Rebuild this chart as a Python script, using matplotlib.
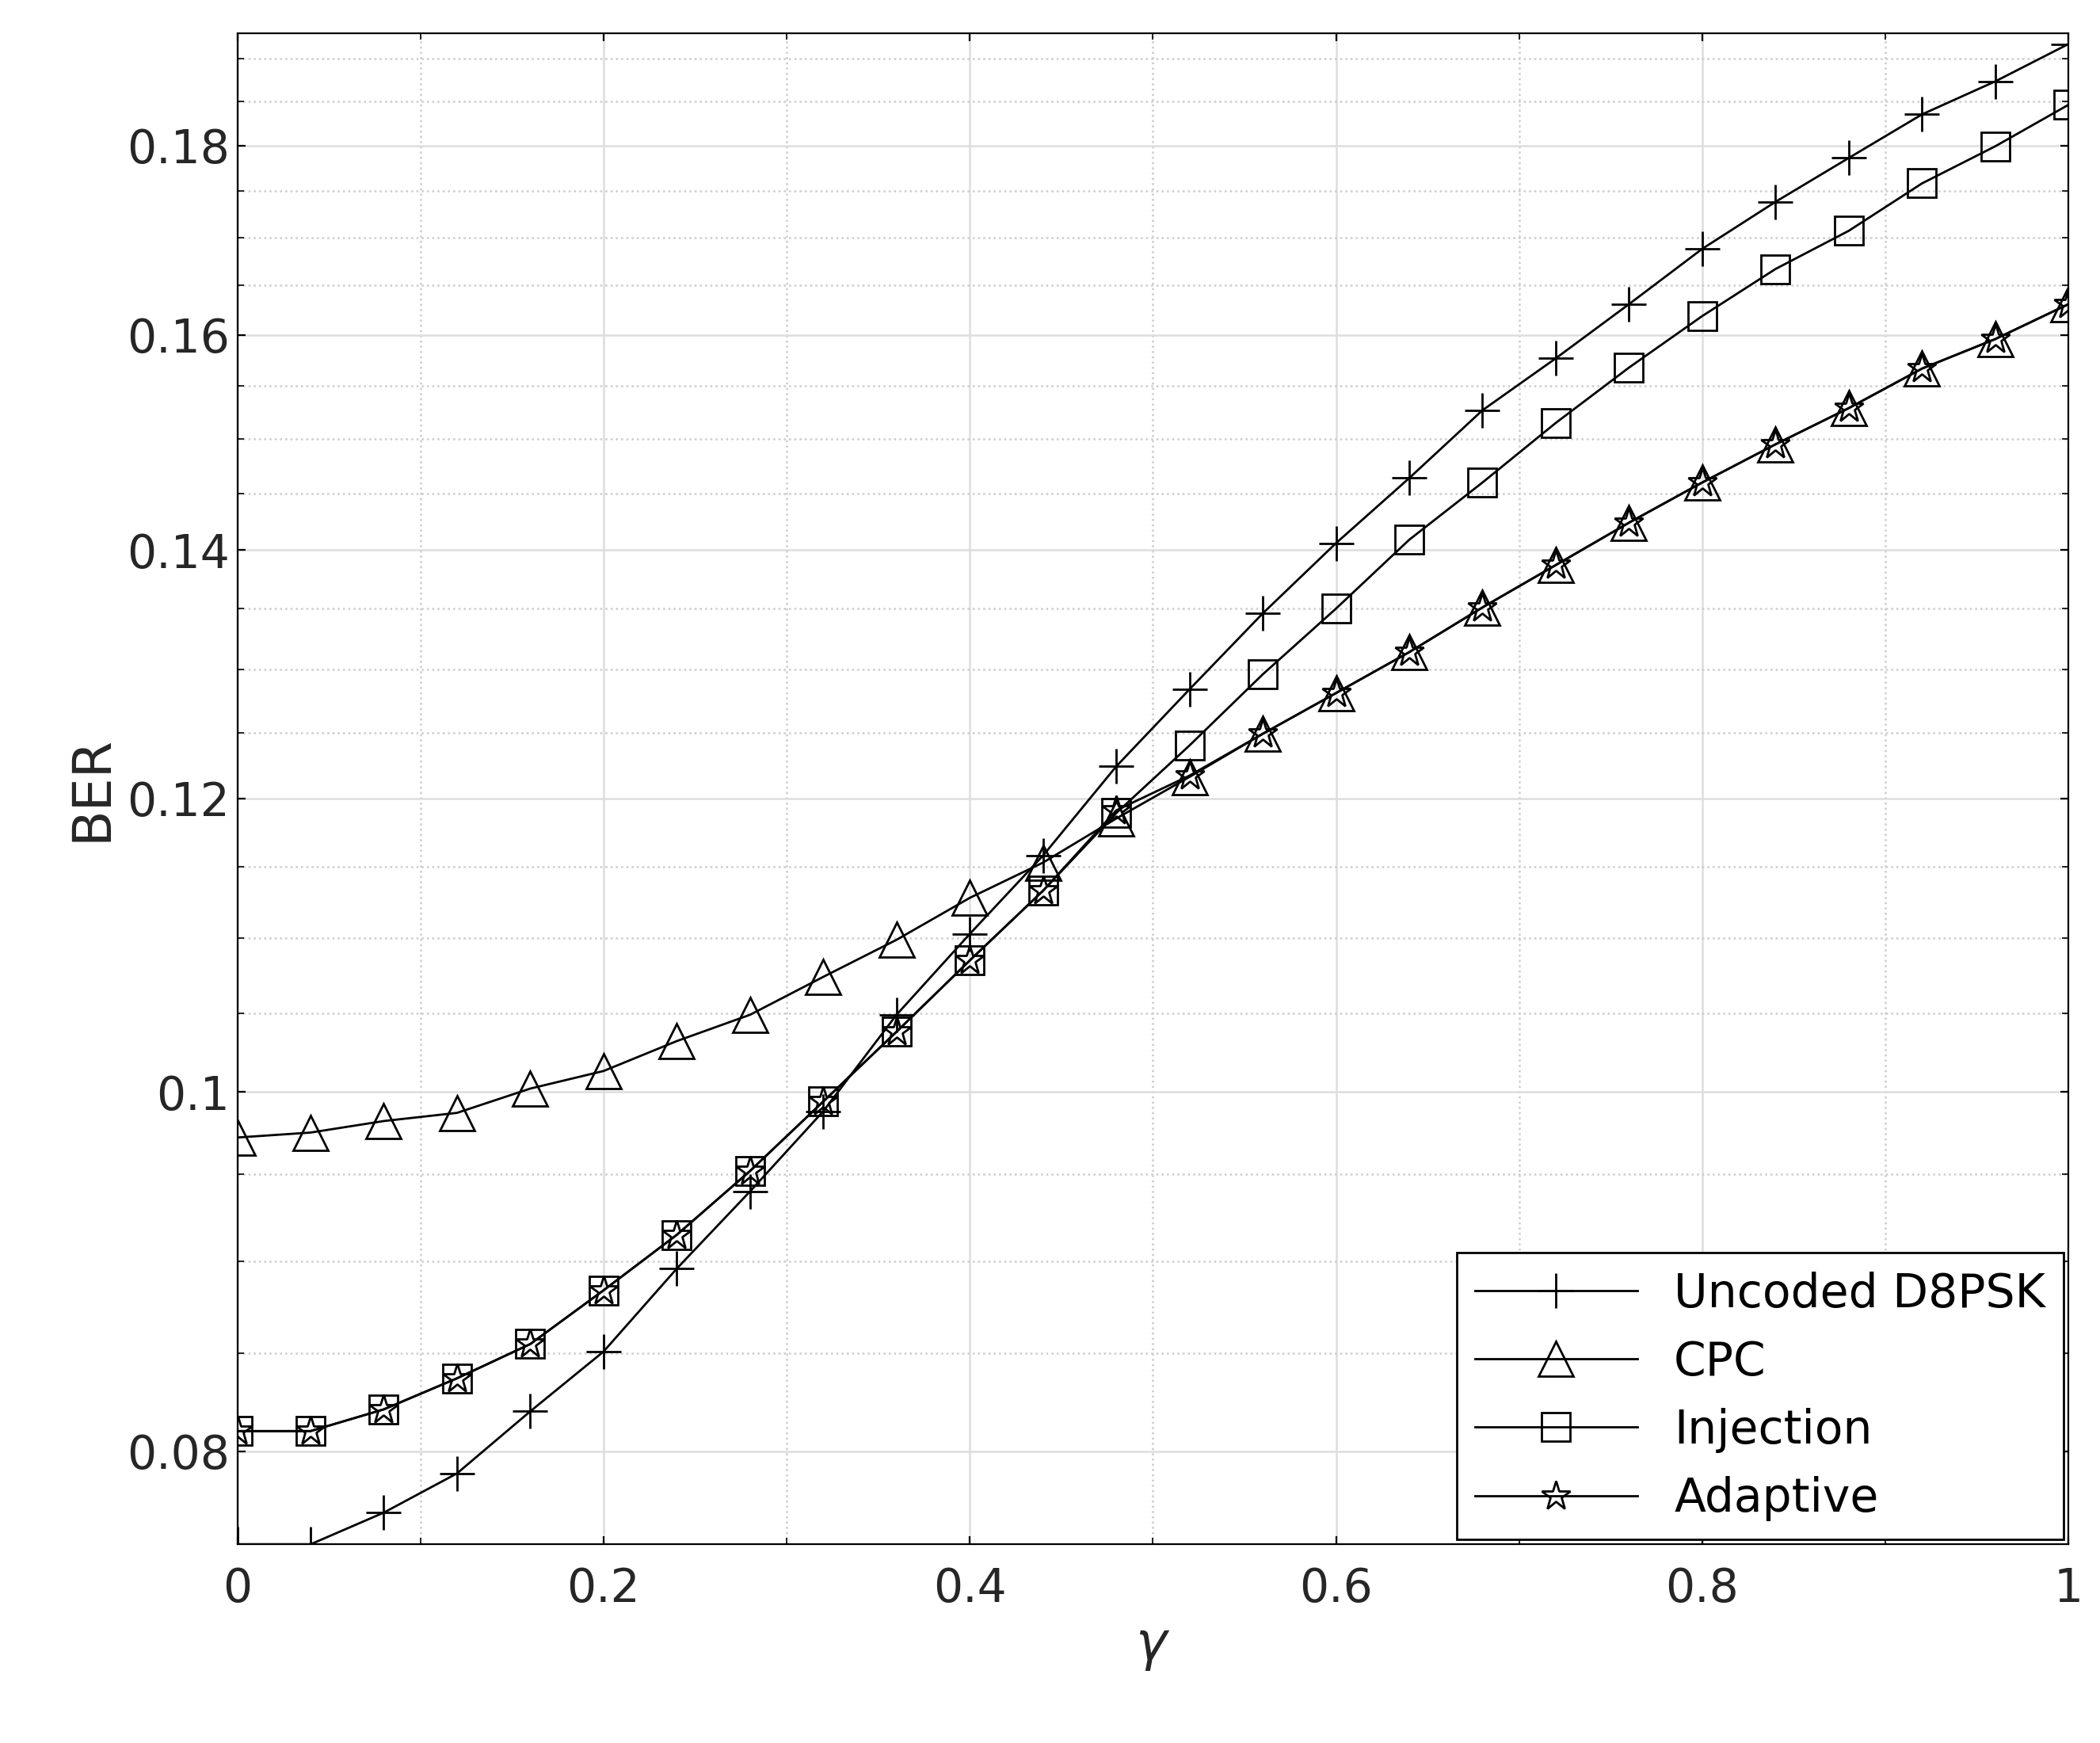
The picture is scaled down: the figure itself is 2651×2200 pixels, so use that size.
import numpy as np
import matplotlib.pyplot as plt
from matplotlib.ticker import FixedLocator, FixedFormatter, NullFormatter, MultipleLocator

gamma = np.round(np.arange(0, 1.0001, 0.04), 2)

uncoded = [0.0755, 0.0755, 0.0770, 0.0789, 0.0820, 0.0851, 0.0896, 0.0940, 0.0988,
           0.1049, 0.1103, 0.1158, 0.1224, 0.1284, 0.1346, 0.1406, 0.1464, 0.1527,
           0.1577, 0.1631, 0.1688, 0.1738, 0.1786, 0.1835, 0.1873, 0.1917]
cpc = [0.0972, 0.0975, 0.0982, 0.0987, 0.1002, 0.1013, 0.1032, 0.1049, 0.1074,
       0.1099, 0.1128, 0.1153, 0.1185, 0.1216, 0.1249, 0.1281, 0.1314, 0.1351,
       0.1387, 0.1424, 0.1460, 0.1495, 0.1529, 0.1567, 0.1596, 0.1631]
injection = [0.0810, 0.0810, 0.0821, 0.0837, 0.0855, 0.0884, 0.0915, 0.0952, 0.0994,
             0.1038, 0.1085, 0.1133, 0.1189, 0.1240, 0.1296, 0.1350, 0.1409, 0.1460,
             0.1515, 0.1568, 0.1619, 0.1667, 0.1707, 0.1758, 0.1799, 0.1846]
adaptive = [0.0810, 0.0810, 0.0821, 0.0837, 0.0855, 0.0884, 0.0915, 0.0952, 0.0994,
            0.1038, 0.1085, 0.1133, 0.1191, 0.1217, 0.1249, 0.1281, 0.1314, 0.1351,
            0.1387, 0.1424, 0.1460, 0.1495, 0.1529, 0.1567, 0.1596, 0.1631]

yticks = [0.08, 0.1, 0.12, 0.14, 0.16, 0.18]
ylabels = ['0.08', '0.1', '0.12', '0.14', '0.16', '0.18']

fig = plt.figure(figsize=(13.255, 11), dpi=200)
ax = fig.add_axes([0.113, 0.114, 0.872, 0.867])

kw = dict(color='black', lw=1.0, markerfacecolor='none', markeredgewidth=1.0)
ax.semilogy(gamma, uncoded, marker='+', markersize=16, label='Uncoded D8PSK', **kw)
ax.semilogy(gamma, cpc, marker='^', markersize=16, label='CPC', **kw)
ax.semilogy(gamma, injection, marker='s', markersize=13, label='Injection', **kw)
ax.semilogy(gamma, adaptive, marker='*', markersize=14, label='Adaptive', **kw)

ax.set_xlim(0, 1)
ax.set_ylim(0.0755, 0.193)
ax.yaxis.set_major_locator(FixedLocator(yticks))
ax.yaxis.set_major_formatter(FixedFormatter(ylabels))
ax.yaxis.set_minor_locator(FixedLocator(np.arange(0.075, 0.195, 0.005)))
ax.yaxis.set_minor_formatter(NullFormatter())
ax.xaxis.set_major_locator(MultipleLocator(0.2))
ax.xaxis.set_minor_locator(MultipleLocator(0.1))
ax.set_xticks([0, 0.2, 0.4, 0.6, 0.8, 1])
ax.set_xticklabels(['0', '0.2', '0.4', '0.6', '0.8', '1'])

ax.grid(True, which='major', color='#dddddd', lw=0.9)
ax.grid(True, which='minor', color='#cccccc', lw=0.9, linestyle=':')
ax.tick_params(which='both', direction='in', labelsize=21, labelcolor='#262626', top=True, right=True)
ax.tick_params(which='minor', length=3)
ax.tick_params(axis='x', pad=10)

ax.set_xlabel(r'$\gamma$', fontsize=24, color='#262626')
ax.set_ylabel('BER', fontsize=24, color='#262626')

leg = ax.legend(loc='lower right', fontsize=21, fancybox=False, framealpha=1,
                edgecolor='black', handlelength=3.5, borderaxespad=0.1)
leg.get_frame().set_linewidth(1.0)

plt.savefig('out.png', dpi=200)
